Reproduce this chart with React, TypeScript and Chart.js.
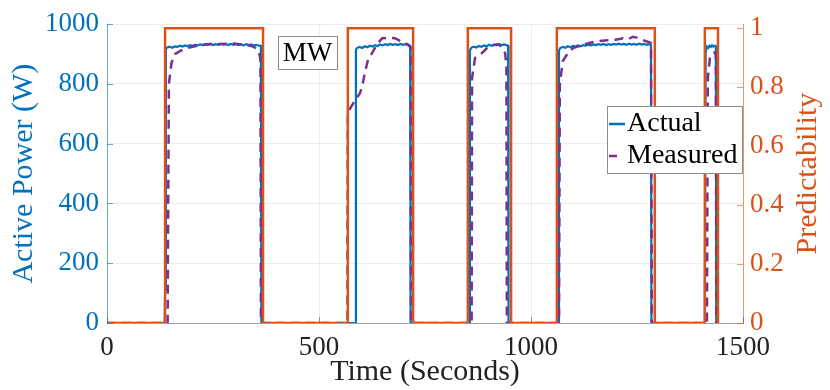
import React, { useEffect, useRef } from "react";
import { Chart, registerables } from "chart.js";

Chart.register(...registerables);

const BLUE = "#0072BD";
const ORANGE = "#D95319";
const PURPLE = "#7E2F8E";
const FONT = "Liberation Serif, Times New Roman, serif";

const xTicks = [0, 500, 1000, 1500];
const leftTicks = [0, 200, 400, 600, 800, 1000];
const rightTicks = [0, 0.2, 0.4, 0.6, 0.8, 1];

// Predictability (right axis), step signal
const predTime = [0, 137, 368, 568, 722, 851, 953, 1061, 1292, 1410, 1441];
const predValue = [0, 1, 0, 1, 0, 1, 0, 1, 0, 1, 0];

// Actual active power [time (s), W]
const actual1: [number, number][] = [
  [0, 0], [136, 0], [137, 110], [139, 918], [142, 922], [148, 925], [154, 921], [160, 926], [166, 924],
  [172, 928], [178, 925], [184, 929], [190, 927], [196, 930], [202, 928], [208, 931], [214, 929],
  [220, 932], [226, 930], [232, 933], [238, 931], [244, 934], [250, 930], [256, 933], [262, 931],
  [268, 934], [274, 932], [280, 933], [286, 930], [292, 934], [298, 931], [304, 933], [310, 930],
  [316, 932], [322, 929], [328, 933], [334, 930], [340, 932], [346, 929], [352, 931], [358, 928],
  [363, 927], [364, 0],
];
const actual2: [number, number][] = [
  [586, 0], [587, 915], [590, 921], [596, 924], [602, 920], [608, 926], [614, 923], [620, 928],
  [626, 925], [632, 930], [638, 927], [644, 932], [650, 929], [656, 933], [662, 930], [668, 934],
  [674, 931], [680, 933], [686, 930], [692, 934], [698, 931], [704, 933], [710, 930], [715, 928],
  [716, 0],
];
const actual3: [number, number][] = [
  [855, 0], [856, 912], [859, 921], [865, 925], [871, 922], [877, 927], [883, 924], [889, 929],
  [895, 926], [901, 931], [907, 928], [913, 932], [919, 929], [925, 933], [931, 930], [937, 932],
  [943, 929], [946, 928], [947, 0],
];
const actual4: [number, number][] = [
  [1065, 0], [1066, 912], [1069, 920], [1075, 924], [1081, 921], [1087, 926], [1093, 923], [1099, 927],
  [1105, 925], [1111, 929], [1117, 926], [1123, 930], [1129, 928], [1135, 931], [1141, 929], [1147, 932],
  [1153, 930], [1159, 933], [1165, 931], [1171, 934], [1177, 930], [1183, 933], [1189, 931], [1195, 934],
  [1201, 932], [1207, 935], [1213, 932], [1219, 934], [1225, 931], [1231, 935], [1237, 932], [1243, 934],
  [1249, 931], [1255, 935], [1261, 932], [1267, 934], [1273, 931], [1279, 933], [1283, 930], [1284, 0],
];
const actual5: [number, number][] = [
  [1409, 0], [1410, 110], [1412, 905], [1415, 925], [1418, 921], [1421, 928], [1424, 924], [1427, 929],
  [1430, 925], [1433, 928], [1436, 926], [1437, 0],
];

// Measured active power [time (s), W]
const measured1: [number, number][] = [
  [0, 0], [143, 0], [144, 300], [146, 800], [152, 870], [160, 900], [175, 912], [189, 920], [210, 927],
  [236, 933], [270, 934], [300, 935], [330, 930], [345, 925], [354, 917], [359, 905], [362, 880], [363, 0],
];
const measured2: [number, number][] = [
  [567, 0], [568, 705], [573, 717], [585, 745], [597, 770], [603, 800], [608, 837], [616, 883], [625, 903],
  [637, 933], [649, 953], [665, 955], [679, 953], [690, 945], [703, 937], [712, 930], [716, 920], [717, 0],
];
const measured3: [number, number][] = [
  [860, 0], [861, 820], [868, 887], [876, 897], [884, 903], [896, 920], [908, 928], [920, 933], [926, 930],
  [932, 920], [939, 903], [942, 860], [943, 0],
];
const measured4: [number, number][] = [
  [1066, 0], [1068, 800], [1075, 877], [1087, 903], [1099, 920], [1120, 930], [1140, 938], [1156, 943],
  [1180, 946], [1200, 948], [1217, 953], [1230, 950], [1240, 958], [1250, 955], [1262, 948], [1272, 943],
  [1283, 937], [1285, 0],
];
const measured5: [number, number][] = [
  [1415, 0], [1417, 820], [1422, 887], [1427, 900], [1432, 905], [1436, 900], [1437, 0],
];

const toXY = (pairs: [number, number][]) => pairs.map(([x, y]) => ({ x, y }));

const overlayPlugin = {
  id: "overlay",
  afterDraw(chart: any) {
    const { ctx, chartArea: ca } = chart;
    const w = ca.right - ca.left;
    ctx.save();

    // inward tick marks
    const ys = chart.scales.y;
    const y1s = chart.scales.y1;
    const xs = chart.scales.x;
    ctx.lineWidth = 1;
    ctx.strokeStyle = "rgba(0,114,189,0.6)";
    leftTicks.forEach((v) => {
      const py = Math.round(ys.getPixelForValue(v)) + 0.5;
      ctx.beginPath(); ctx.moveTo(ca.left, py); ctx.lineTo(ca.left + 6, py); ctx.stroke();
    });
    ctx.strokeStyle = "rgba(217,83,25,0.6)";
    rightTicks.forEach((v) => {
      const py = Math.round(y1s.getPixelForValue(v)) + 0.5;
      ctx.beginPath(); ctx.moveTo(ca.right - 6, py); ctx.lineTo(ca.right, py); ctx.stroke();
    });
    ctx.strokeStyle = "rgba(80,80,80,0.6)";
    xTicks.forEach((v) => {
      const px = Math.round(xs.getPixelForValue(v)) + 0.5;
      ctx.beginPath(); ctx.moveTo(px, ca.bottom); ctx.lineTo(px, ca.bottom - 6); ctx.stroke();
    });

    // MW annotation box
    const bx = ca.left + 0.269 * w;
    const by = ca.top + 12;
    const bw = 59;
    const bh = 33;
    ctx.fillStyle = "#ffffff";
    ctx.fillRect(bx, by, bw, bh);
    ctx.strokeStyle = "#8c8c8c";
    ctx.lineWidth = 1;
    ctx.strokeRect(Math.round(bx) + 0.5, Math.round(by) + 0.5, bw, bh);
    ctx.fillStyle = "#000000";
    ctx.font = `27px ${FONT}`;
    ctx.textAlign = "center";
    ctx.textBaseline = "middle";
    ctx.fillText("MW", bx + bw / 2, by + bh / 2 + 1);

    // Legend
    const lw = 135;
    const lh = 67;
    const lx = ca.right - lw - 1;
    const ly = 106;
    ctx.fillStyle = "#ffffff";
    ctx.fillRect(lx, ly, lw, lh);
    ctx.strokeStyle = "#8c8c8c";
    ctx.strokeRect(Math.round(lx) + 0.5, Math.round(ly) + 0.5, lw, lh);
    ctx.lineWidth = 2.5;
    ctx.strokeStyle = BLUE;
    ctx.beginPath(); ctx.moveTo(lx + 2, ly + 18); ctx.lineTo(lx + 18, ly + 18); ctx.stroke();
    ctx.strokeStyle = PURPLE;
    ctx.beginPath(); ctx.moveTo(lx + 2, ly + 50); ctx.lineTo(lx + 10, ly + 50); ctx.stroke();
    ctx.fillStyle = "#000000";
    ctx.font = `28px ${FONT}`;
    ctx.textAlign = "left";
    ctx.textBaseline = "middle";
    ctx.fillText("Actual", lx + 20, ly + 18);
    ctx.fillText("Measured", lx + 20, ly + 50);

    // Right axis title (reads bottom to top)
    ctx.translate(808, (ca.top + ca.bottom) / 2);
    ctx.rotate(-Math.PI / 2);
    ctx.fillStyle = ORANGE;
    ctx.font = `30px ${FONT}`;
    ctx.textAlign = "center";
    ctx.textBaseline = "middle";
    ctx.fillText("Predictability", 0, 0);
    ctx.restore();
  },
};

export default function App() {
  const canvasRef = useRef<HTMLCanvasElement | null>(null);

  useEffect(() => {
    if (!canvasRef.current) return;
    const chart = new Chart(canvasRef.current, {
      type: "line",
      data: {
        datasets: [
          {
            label: "Predictability",
            data: predTime.map((t, i) => ({ x: t, y: predValue[i] })),
            yAxisID: "y1",
            borderColor: ORANGE,
            borderWidth: 2.5,
            stepped: true,
            pointRadius: 0,
            fill: false,
            order: 0,
          },
          {
            label: "Measured",
            data: toXY([...measured1, ...measured2, ...measured3, ...measured4, ...measured5]),
            yAxisID: "y",
            borderColor: PURPLE,
            borderWidth: 2.5,
            borderDash: [9, 6],
            pointRadius: 0,
            fill: false,
            order: 1,
          },
          {
            label: "Actual",
            data: toXY([...actual1, ...actual2, ...actual3, ...actual4, ...actual5]),
            yAxisID: "y",
            borderColor: BLUE,
            borderWidth: 2.2,
            pointRadius: 0,
            fill: false,
            order: 2,
          },
        ],
      },
      options: {
        responsive: false,
        animation: false,
        layout: { padding: { top: 23, left: 0, right: 0, bottom: 0 } },
        plugins: { legend: { display: false }, tooltip: { enabled: false } },
        scales: {
          x: {
            type: "linear",
            min: 0,
            max: 1500,
            afterBuildTicks: (s: any) => { s.ticks = xTicks.map((v) => ({ value: v })); },
            afterFit: (s: any) => { s.height = 67; },
            ticks: {
              color: "#222222",
              font: { family: FONT, size: 27 },
              padding: 9,
              maxRotation: 0,
              autoSkip: false,
              callback: (v: any) => String(v),
            },
            grid: { color: "rgba(0,0,0,0.07)", drawTicks: false },
            border: { color: "#a0a0a0" },
            title: {
              display: true,
              text: "Time (Seconds)",
              color: "#222222",
              font: { family: FONT, size: 30 },
              padding: { top: 0, bottom: 0 },
            },
          },
          y: {
            type: "linear",
            position: "left",
            min: 0,
            max: 1000,
            afterBuildTicks: (s: any) => { s.ticks = leftTicks.map((v) => ({ value: v })); },
            afterFit: (s: any) => { s.width = 107; },
            ticks: {
              color: BLUE,
              font: { family: FONT, size: 27 },
              padding: 8,
              callback: (v: any) => String(v),
            },
            grid: { color: "rgba(0,0,0,0.07)", drawTicks: false },
            border: { color: "rgba(0,114,189,0.55)" },
            title: {
              display: true,
              text: "Active Power (W)",
              color: BLUE,
              font: { family: FONT, size: 30 },
              padding: { top: 6, bottom: 0 },
            },
          },
          y1: {
            type: "linear",
            position: "right",
            min: 0,
            max: 1.014,
            afterBuildTicks: (s: any) => { s.ticks = rightTicks.map((v) => ({ value: v })); },
            afterFit: (s: any) => { s.width = 87; },
            ticks: {
              color: ORANGE,
              font: { family: FONT, size: 27 },
              padding: 7,
              callback: (v: any) => String(Number(Number(v).toFixed(1))),
            },
            grid: { drawOnChartArea: false, drawTicks: false },
            border: { color: "rgba(217,83,25,0.55)" },
          },
        },
      },
      plugins: [overlayPlugin],
    });
    return () => chart.destroy();
  }, []);

  return (
    <div style={{ position: "absolute", left: 0, top: 0, width: 830, height: 390, background: "#ffffff" }}>
      <canvas ref={canvasRef} width={830} height={390} style={{ display: "block" }} />
    </div>
  );
}
